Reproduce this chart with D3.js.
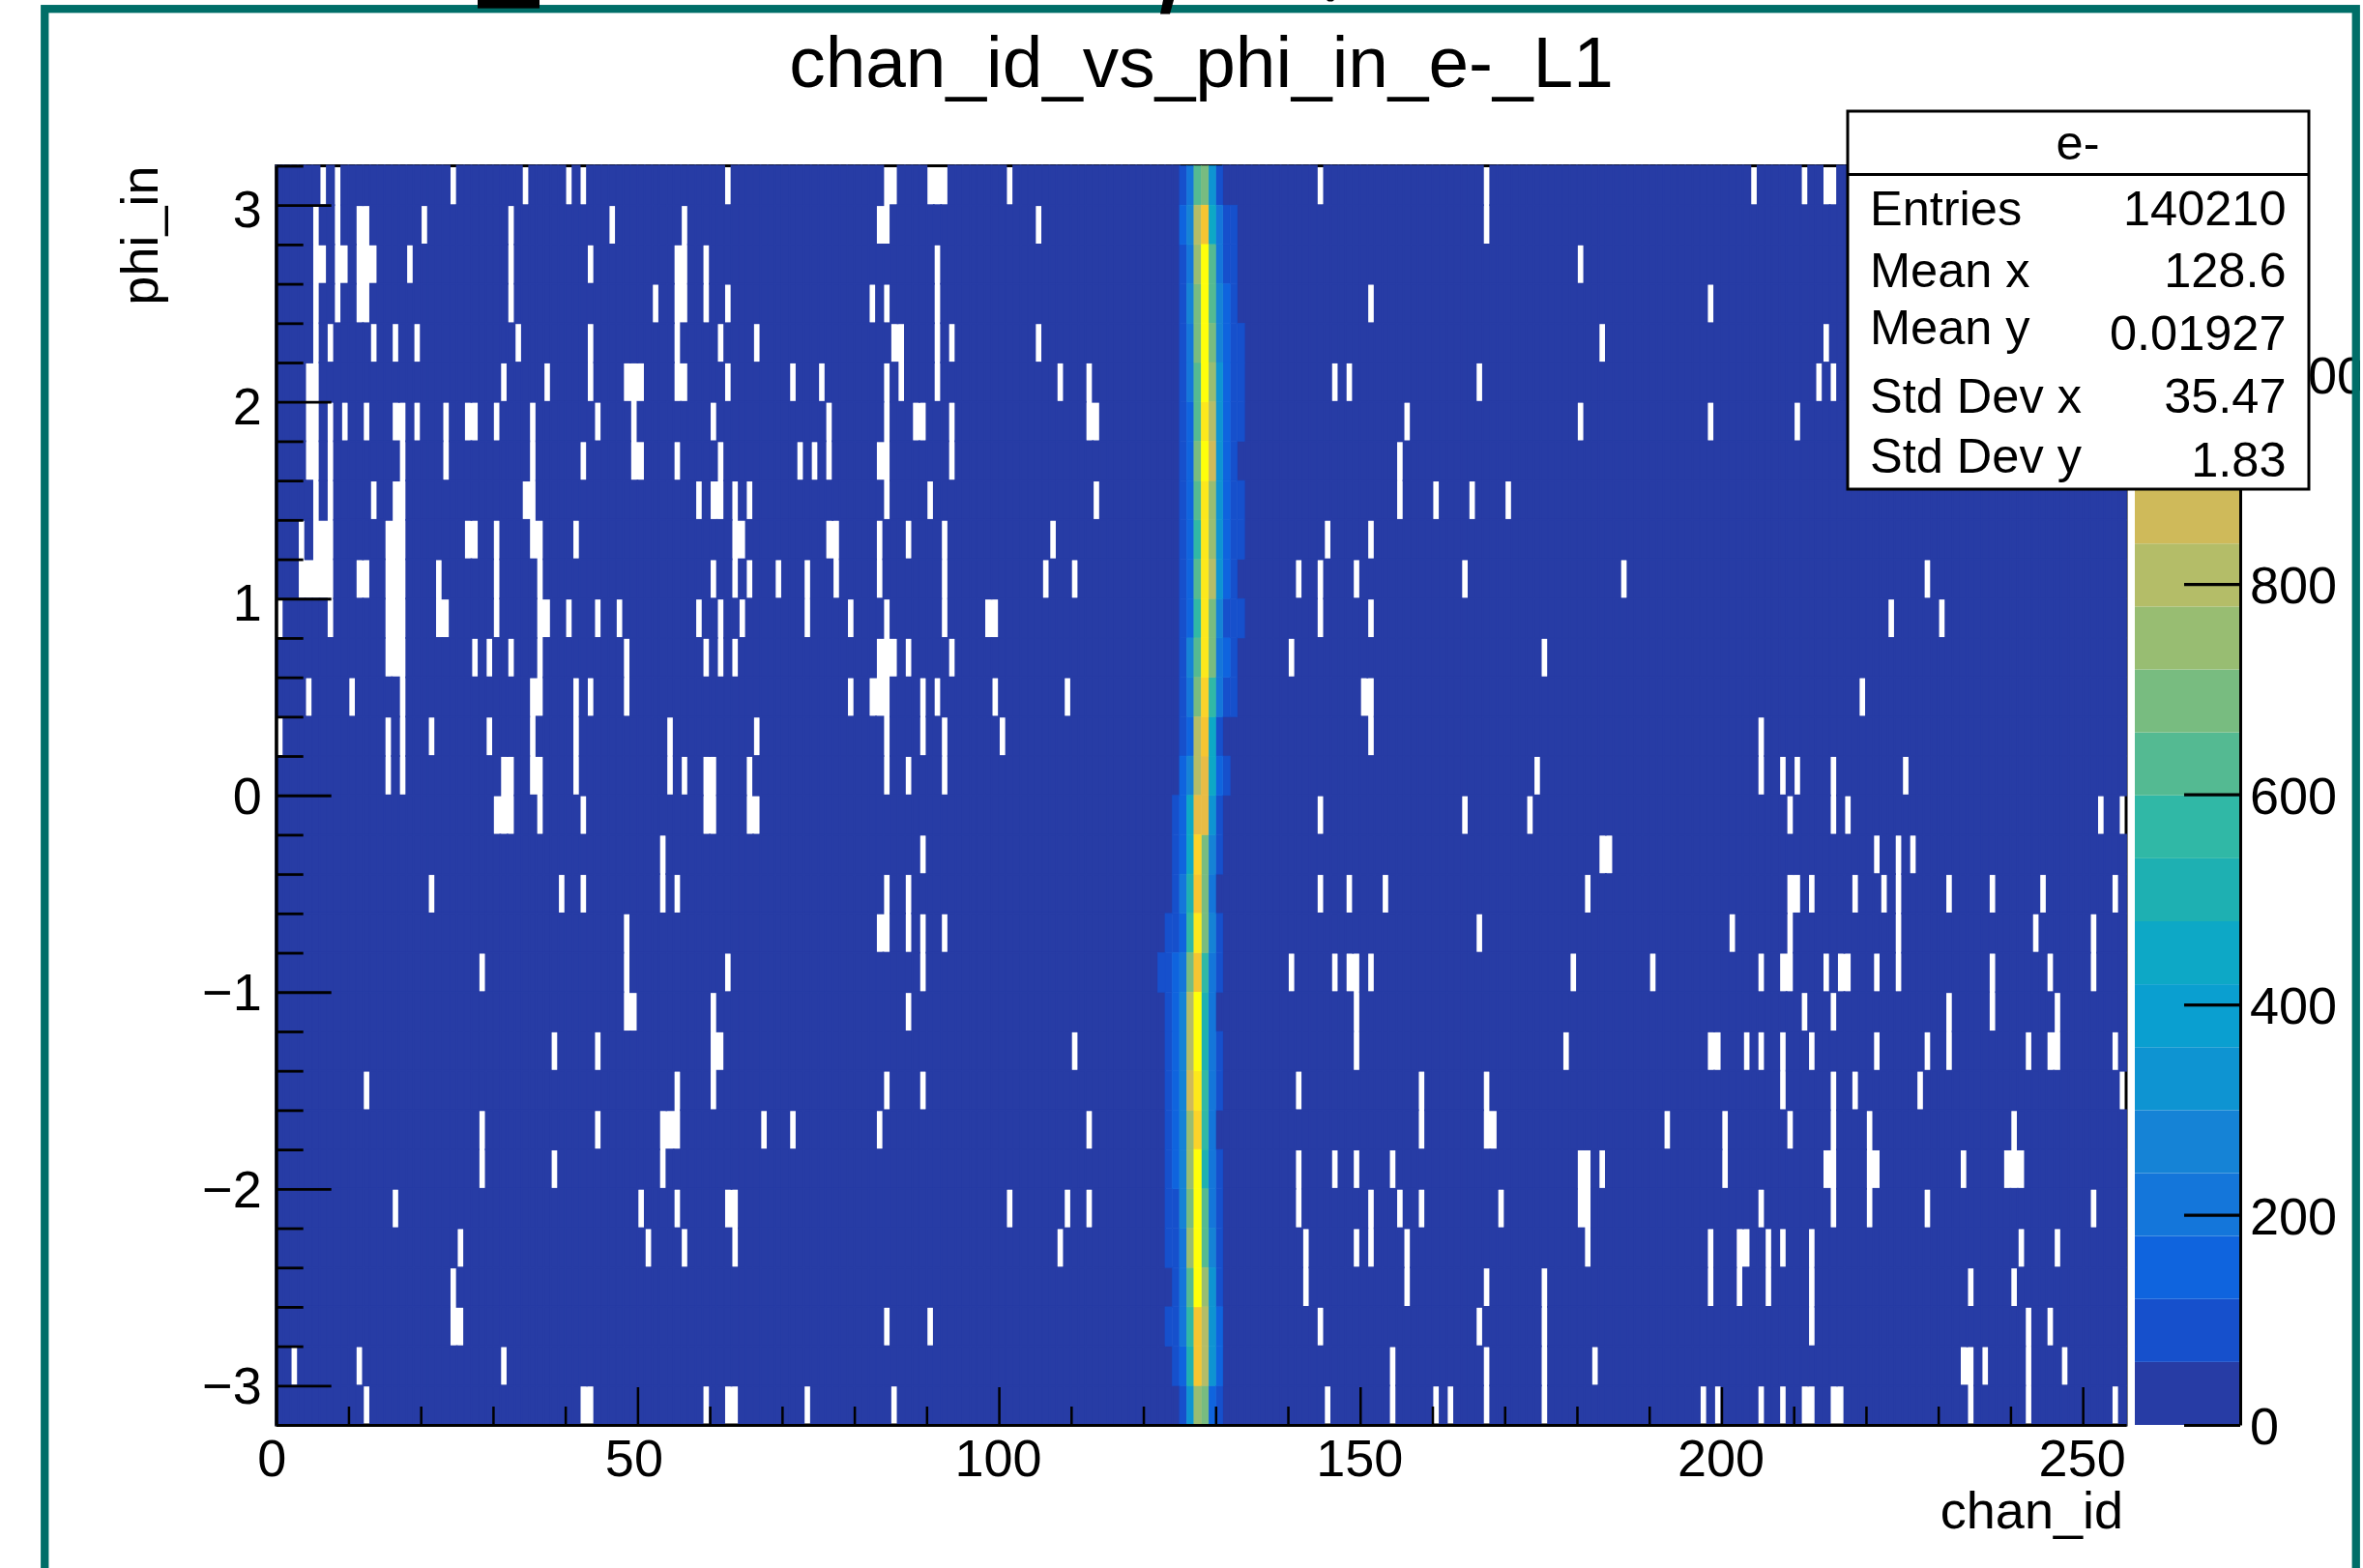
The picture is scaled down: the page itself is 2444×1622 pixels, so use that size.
<!DOCTYPE html>
<html>
<head>
<meta charset="utf-8">
<script src="https://cdn.jsdelivr.net/npm/d3@7"></script>
<style>
  html, body { margin: 0; padding: 0; background: #fff; }
  text { font-family: "Liberation Sans", Arial, sans-serif; fill: #000; }
</style>
</head>
<body>
<div id="vis"></div>
<script>
const chartTitle = 'chan_id_vs_phi_in_e-_L1'
const xTitle = 'chan_id'
const yTitle = 'phi_in'

const xMajorTicks = [0, 50, 100, 150, 200, 250]
const yMajorTicks = [-3, -2, -1, 0, 1, 2, 3]
const zMajorTicks = [0, 200, 400, 600, 800, 1000]

const statsName = 'e-'
const statsLabels = ['Entries', 'Mean x', 'Mean y', 'Std Dev x', 'Std Dev y']
const statsValues = ['140210', '128.6', '0.01927', '35.47', '1.83']

// colour of each of the 20 z contours
const bandColors = ['#273ca5', '#1650cc', '#0f64de', '#1476da', '#1583d6', '#0e94d2', '#0a9fd0', '#0da8c6',
    '#1eb0b2', '#30b8a6', '#54ba92', '#78bc80', '#98bd72', '#b4bd68', '#cfba5a', '#e8bc45',
    '#f5c532', '#fbd32a', '#fde81c', '#ffff0a']
const zMax = 1198

// typical count of a filled bin away from the peak
const backgroundCount = 5

// chan_id bins with no entries, one list per phi_in row, from the top row down
const emptyBins = [
    [6,8,24,34,40,42,62,84,85,90,91,92,101,144,167,204,211,214,215],
    [5,8,11,12,20,32,46,56,83,84,105,167],
    [5,6,8,9,11,12,13,18,32,43,55,56,59,91,180],
    [5,8,11,12,32,52,55,56,59,62,82,84,91,151,198],
    [5,7,13,16,19,33,43,55,61,66,85,86,91,93,105,183,214],
    [4,5,31,37,43,48,49,50,55,56,62,71,75,84,86,91,108,112,146,148,166,213,215],
    [4,5,7,9,12,16,17,19,23,26,27,30,35,44,49,60,76,84,88,89,93,112,113,156,180,198,210],
    [4,5,7,17,23,35,42,49,50,55,61,72,74,76,83,84,93,155],
    [5,7,13,16,17,34,35,58,60,61,63,65,84,90,113,155,160,165,170],
    [3,5,6,7,15,16,17,26,27,30,35,36,41,63,64,76,77,83,87,92,107,145,151],
    [3,4,5,6,7,11,12,15,16,17,22,30,36,60,63,65,69,73,77,83,92,106,110,141,144,149,164,186,228],
    [0,7,15,16,17,22,23,30,36,37,40,44,47,58,61,64,73,79,84,92,98,99,144,151,223,230],
    [15,16,17,27,29,32,36,48,59,61,63,83,84,85,87,93,140,175],
    [4,10,17,35,36,41,43,48,79,82,83,84,89,91,99,109,150,151,219],
    [0,15,17,21,29,35,41,54,66,84,89,92,100,151,205],
    [15,17,31,32,35,36,41,54,56,59,60,65,84,87,92,174,205,208,210,215,225],
    [30,31,32,36,42,59,60,65,66,144,164,173,209,215,217,252,255],
    [53,89,183,184,221,224,226],
    [21,39,42,53,55,84,87,144,148,153,181,209,210,212,218,222,224,231,237,244,254],
    [48,83,84,87,89,92,166,201,209,224,243,251],
    [28,48,62,89,140,146,148,149,151,179,190,205,208,209,214,216,217,221,224,237,245,251],
    [48,49,60,87,149,211,215,231,237,246],
    [38,44,60,61,110,149,178,198,199,203,205,208,212,221,228,231,242,245,246,254],
    [12,55,60,84,89,141,158,167,208,215,218,227,255],
    [28,44,53,54,55,67,71,83,112,158,167,168,192,200,209,215,220,240],
    [28,38,53,141,146,149,154,180,181,183,200,214,215,220,221,233,239,240,241],
    [16,50,55,62,63,101,109,112,141,151,155,158,169,180,181,205,215,220,228,251],
    [25,51,56,63,108,142,149,151,156,181,198,202,203,206,208,212,241,246],
    [24,142,156,167,175,198,202,206,212,234,240],
    [24,25,84,90,144,166,175,212,242,245],
    [2,11,31,154,167,175,182,233,234,236,242,247],
    [12,42,43,59,62,63,73,85,145,154,160,162,167,175,197,199,205,208,211,212,215,216,234,242,254]
]

// the bright band around chan_id 127: first bin of the band in each row, then its counts
const peakFirstBin = [125,125,125,125,125,125,125,125,125,125,125,125,125,125,125,125,
    124,124,124,123,122,123,123,123,123,123,123,123,124,123,124,125]
const peakCounts = [
    [90,210,630,690,330,90],
    [150,270,810,990,450,210,90,90],
    [90,210,750,1170,630,210,90,90],
    [90,270,690,1170,630,270,150,90],
    [90,210,690,1170,690,270,150,90,90],
    [90,210,630,1170,750,330,150,90,90],
    [90,150,630,1110,810,330,150,90,90],
    [90,150,690,1170,870,330,150,90],
    [90,150,630,1110,750,330,150,90,90],
    [90,150,570,1110,750,330,150,90,90],
    [90,150,630,1110,810,330,150,90],
    [90,150,570,1110,690,270,90,90,90],
    [90,270,630,1110,690,210,150,90],
    [90,210,690,1050,570,210,90,90],
    [90,150,810,990,450,90],
    [150,270,810,930,450,150,90],
    [90,150,450,930,930,330,90],
    [90,150,450,1050,690,270,90],
    [90,210,510,990,690,210],
    [90,90,150,570,1110,690,270,90],
    [90,90,150,210,690,990,570,210,90],
    [90,150,270,810,1170,510,210],
    [90,150,270,810,1170,510,210,90],
    [90,150,270,870,1110,570,210,90],
    [90,150,270,750,1050,570,210],
    [90,150,270,750,1170,510,210,90],
    [90,90,270,690,1170,630,210,90],
    [90,90,210,750,1170,630,270,90],
    [90,210,630,1170,750,330,90],
    [90,90,210,570,990,810,330,150],
    [90,150,510,990,810,330,150],
    [90,330,750,690,150,90]
]

const nChanBins = 256
const nPhiBins = 32
const phiTop = 3.2
const phiBottom = -3.2

const plot = {left: 285.7, right: 2199, top: 171.5, bottom: 1474}
const barLeft = 2208, barRight = 2317
const fontSize = 54

const svg = d3.select('#vis').append('svg')
    .attr('width', 2444)
    .attr('height', 1622)
    .style('display', 'block')

const xScale = d3.scaleLinear().domain([0, nChanBins]).range([plot.left, plot.right])
const yScale = d3.scaleLinear().domain([phiBottom, phiTop]).range([plot.bottom, plot.top])
const zScale = d3.scaleLinear().domain([0, zMax]).range([plot.bottom, plot.top])
const colorScale = d3.scaleQuantize().domain([0, zMax]).range(bandColors)
const phiStep = (phiTop - phiBottom) / nPhiBins

// Pad box, sits behind the cells so it only shows through the empty ones
svg.append('rect')
    .attr('x', plot.left)
    .attr('y', plot.top)
    .attr('width', plot.right - plot.left)
    .attr('height', plot.bottom - plot.top)
    .attr('fill', 'none')
    .attr('stroke', '#000')
    .attr('stroke-width', 3)

// Flatten the rows into filled cells
const cells = []
emptyBins.forEach((empties, row) => {
    const first = peakFirstBin[row]
    const counts = peakCounts[row]
    d3.range(nChanBins).forEach(bin => {
        if (empties.includes(bin)) return
        const inPeak = bin >= first && bin < first + counts.length
        cells.push({row: row, bin: bin, count: inPeak ? counts[bin - first] : backgroundCount})
    })
})
cells.sort((a, b) => a.count - b.count)

svg.append('g').selectAll('rect')
    .data(cells)
    .enter()
    .append('rect')
    .attr('x', d => xScale(d.bin))
    .attr('y', d => yScale(phiTop - d.row * phiStep))
    .attr('width', d => xScale(d.bin + 1) - xScale(d.bin))
    .attr('height', d => yScale(phiTop - (d.row + 1) * phiStep) - yScale(phiTop - d.row * phiStep))
    .attr('fill', d => colorScale(d.count))
    .attr('stroke', d => colorScale(d.count))
    .attr('stroke-width', d => d.count === backgroundCount ? 1.8 : 0.6)

// X axis, ticks point inwards like ROOT draws them
const xMinor = d3.range(0, nChanBins, 10).filter(v => !xMajorTicks.includes(v))
svg.append('g')
    .attr('transform', `translate(0,${plot.bottom})`)
    .call(d3.axisBottom(xScale).tickValues(xMinor).tickSize(-19).tickFormat(''))
    .call(g => g.select('.domain').remove())
    .selectAll('line').attr('stroke', '#000').attr('stroke-width', 2.5)

const xAxis = svg.append('g')
    .attr('transform', `translate(0,${plot.bottom})`)
    .call(d3.axisBottom(xScale).tickValues(xMajorTicks).tickSize(-39).tickSizeOuter(0).tickFormat(d3.format('d')))
xAxis.select('.domain').attr('stroke', '#000').attr('stroke-width', 3)
xAxis.selectAll('line').attr('stroke', '#000').attr('stroke-width', 2.5)
xAxis.selectAll('text')
    .attr('font-size', fontSize)
    .attr('dy', 0)
    .attr('y', 53)
    .attr('dx', d => d === 0 ? -5 : d === 50 ? -4 : -1)

// Y axis, minor tick every bin
const yMinor = d3.range(0, nPhiBins + 1).map(i => +(phiBottom + i * phiStep).toFixed(1)).filter(v => !yMajorTicks.includes(v))
svg.append('g')
    .attr('transform', `translate(${plot.left},0)`)
    .call(d3.axisLeft(yScale).tickValues(yMinor).tickSize(-28).tickFormat(''))
    .call(g => g.select('.domain').remove())
    .selectAll('line').attr('stroke', '#000').attr('stroke-width', 2.8)

const yAxis = svg.append('g')
    .attr('transform', `translate(${plot.left},0)`)
    .call(d3.axisLeft(yScale).tickValues(yMajorTicks).tickSize(-57).tickSizeOuter(0).tickFormat(d => d3.format('d')(d).replace('-', '\u2212')))
yAxis.select('.domain').attr('stroke', '#000').attr('stroke-width', 3)
yAxis.selectAll('line').attr('stroke', '#000').attr('stroke-width', 2.8)
yAxis.selectAll('text')
    .attr('font-size', fontSize)
    .attr('x', -15)
    .attr('y', d => d > 0 ? 4 : 0)
    .attr('dy', '0.34em')

// Palette bar
svg.append('g').selectAll('rect')
    .data(bandColors)
    .enter()
    .append('rect')
    .attr('x', barLeft)
    .attr('y', (d, i) => zScale((i + 1) * zMax / bandColors.length))
    .attr('width', barRight - barLeft)
    .attr('height', (d, i) => zScale(i * zMax / bandColors.length) - zScale((i + 1) * zMax / bandColors.length))
    .attr('fill', d => d)

const zAxis = svg.append('g')
    .attr('transform', `translate(${barRight},0)`)
    .call(d3.axisRight(zScale).tickValues(zMajorTicks).tickSize(-58).tickSizeOuter(0).tickFormat(d3.format('d')))
zAxis.select('.domain').attr('stroke', '#000').attr('stroke-width', 3)
zAxis.selectAll('line').attr('stroke', '#000').attr('stroke-width', 3.2)
zAxis.selectAll('text')
    .attr('font-size', fontSize)
    .attr('x', 10)
    .attr('dy', '0.36em')

// Titles
svg.append('text')
    .attr('x', 1242.5)
    .attr('y', 89.5)
    .attr('text-anchor', 'middle')
    .attr('font-size', 74.8)
    .text(chartTitle)

svg.append('text')
    .attr('x', 2196)
    .attr('y', 1581)
    .attr('text-anchor', 'end')
    .attr('font-size', fontSize)
    .text(xTitle)

svg.append('text')
    .attr('transform', 'translate(163,171.5) rotate(-90)')
    .attr('text-anchor', 'end')
    .attr('font-size', fontSize)
    .text(yTitle)

// Stats box
const statsBox = {left: 1911, right: 2388, top: 115, bottom: 506, header: 180.5}
svg.append('rect')
    .attr('x', statsBox.left)
    .attr('y', statsBox.top)
    .attr('width', statsBox.right - statsBox.left)
    .attr('height', statsBox.bottom - statsBox.top)
    .attr('fill', '#fff')
    .attr('stroke', '#000')
    .attr('stroke-width', 3)
svg.append('line')
    .attr('x1', statsBox.left)
    .attr('x2', statsBox.right)
    .attr('y1', statsBox.header)
    .attr('y2', statsBox.header)
    .attr('stroke', '#000')
    .attr('stroke-width', 3)
svg.append('text')
    .attr('x', 2149)
    .attr('y', 164.5)
    .attr('text-anchor', 'middle')
    .attr('font-size', 50.5)
    .text(statsName)

const labelBaselines = [232.5, 297, 355.5, 427, 489]
const valueBaselines = [232.5, 297, 361.5, 427, 492.5]
svg.append('g').selectAll('text')
    .data(statsLabels)
    .enter()
    .append('text')
    .attr('x', 1934)
    .attr('y', (d, i) => labelBaselines[i])
    .attr('font-size', 50.5)
    .text(d => d)
svg.append('g').selectAll('text')
    .data(statsValues)
    .enter()
    .append('text')
    .attr('x', 2364.5)
    .attr('y', (d, i) => valueBaselines[i])
    .attr('text-anchor', 'end')
    .attr('font-size', 50.5)
    .text(d => d)

// Slide frame, runs off the bottom of the picture
svg.append('rect')
    .attr('x', 46.25)
    .attr('y', 9.2)
    .attr('width', 2390.5)
    .attr('height', 1700)
    .attr('fill', 'none')
    .attr('stroke', '#006e68')
    .attr('stroke-width', 8.3)
svg.append('rect')
    .attr('x', 2441)
    .attr('y', 0)
    .attr('width', 3)
    .attr('height', 1622)
    .attr('fill', '#fff')

// Bottoms of the slide heading that is cut off by the picture edge
svg.append('rect')
    .attr('x', 494).attr('y', 0)
    .attr('width', 64).attr('height', 8.6)
    .attr('fill', '#000')
svg.append('path')
    .attr('d', 'M1203,0L1214,0L1210,14.5L1200,14.5Z')
    .attr('fill', '#000')
svg.append('path')
    .attr('d', 'M1372,0L1380,0L1378,1.6L1374,1.6Z')
    .attr('fill', '#000')
</script>
</body>
</html>
